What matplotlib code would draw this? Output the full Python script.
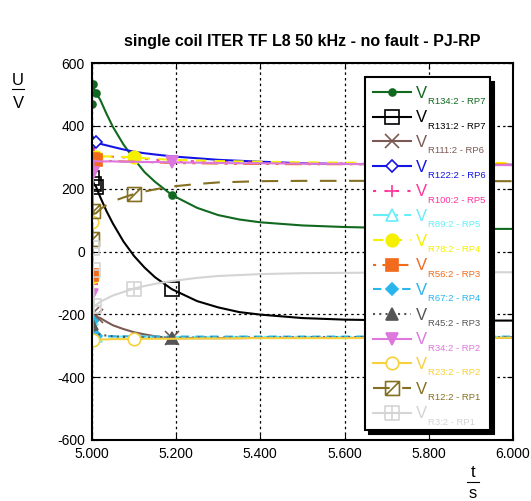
import numpy as np
import matplotlib
matplotlib.use('Agg')
import matplotlib.pyplot as plt
from matplotlib.path import Path
from matplotlib.lines import Line2D

plt.rcParams['font.family'] = ['Liberation Sans', 'DejaVu Sans']
plt.rcParams['axes.unicode_minus'] = False

# Time points (s)
t = [5.000, 5.002, 5.005, 5.010, 5.020, 5.035, 5.050, 5.075, 5.100, 5.125, 5.150,
     5.190, 5.250, 5.300, 5.350, 5.400, 5.500, 5.600, 5.700, 5.800, 5.900, 6.000]

# Voltages (V)
v_r134 = [470, 535, 520, 505, 483, 438, 397, 341, 295, 253, 222, 180, 139, 116, 102, 93, 83, 78, 75, 73, 72, 72]
v_r131 = [235, 228, 215, 206, 173, 128, 89, 32, -14, -51, -82, -120, -158, -178, -193, -201, -212, -217, -219, -220, -220, -220]
v_r111 = [-200, -205, -205, -207, -212, -224, -235, -247, -257, -264, -270, -276, -276, -276, -276, -275, -275, -275, -275, -275, -275, -275]
v_r122 = [-395, 345, 352, 350, 343, 338, 333, 325, 318, 313, 309, 303, 297, 292, 289, 286, 281, 279, 278, 277, 276, 276]
v_r100 = [-105, 310, 312, 308, 305, 303, 302, 300, 298, 295, 292, 290, 287, 285, 284, 283, 281, 280, 279, 278, 278, 278]
v_r89 = [-215, -265, -268, -270, -270, -270, -271, -271, -271, -271, -272, -272, -272, -272, -272, -272, -272, -272, -272, -272, -272, -272]
v_r78 = [-80, 305, 300, 302, 303, 303, 302, 301, 300, 297, 295, 292, 290, 288, 287, 286, 284, 283, 283, 282, 282, 282]
v_r56 = [-75, 295, 300, 292, 290, 289, 288, 287, 286, 285, 284, 282, 281, 280, 279, 279, 278, 278, 277, 277, 277, 277]
v_r67 = [-220, -262, -266, -268, -270, -270, -270, -270, -270, -271, -271, -271, -271, -271, -271, -271, -271, -271, -271, -271, -271, -271]
v_r45 = [-230, -240, -250, -258, -265, -268, -270, -272, -273, -274, -274, -275, -274, -274, -274, -274, -273, -273, -273, -273, -273, -273]
v_r34 = [-140, 250, 290, 288, 287, 287, 287, 286, 286, 285, 285, 284, 283, 282, 281, 281, 280, 279, 278, 277, 276, 275]
v_r23 = [93, -281, -280, -280, -280, -280, -279, -279, -279, -278, -278, -278, -277, -277, -276, -276, -276, -276, -275, -275, -275, -275]
v_r12 = [40, 128, 120, 122, 135, 148, 160, 172, 183, 191, 198, 207, 215, 220, 222, 224, 225, 225, 225, 224, 224, 224]
v_r3 = [10, -60, -174, -170, -160, -150, -140, -129, -118, -110, -103, -94, -84, -78, -75, -72, -69, -68, -67, -66, -66, -66]

labels = ['R134:2 - RP7', 'R131:2 - RP7', 'R111:2 - RP6', 'R122:2 - RP6',
          'R100:2 - RP5', 'R89:2 - RP5', 'R78:2 - RP4', 'R56:2 - RP3',
          'R67:2 - RP4', 'R45:2 - RP3', 'R34:2 - RP2', 'R23:2 - RP2',
          'R12:2 - RP1', 'R3:2 - RP1']
values = [v_r134, v_r131, v_r111, v_r122, v_r100, v_r89, v_r78, v_r56,
          v_r67, v_r45, v_r34, v_r23, v_r12, v_r3]

# custom markers: square with diagonal, square with plus
sq = [(-1, -1), (1, -1), (1, 1), (-1, 1), (-1, -1)]
box_slash = Path(sq + [(-1, -1), (1, 1)],
                 [Path.MOVETO] + [Path.LINETO] * 4 + [Path.MOVETO, Path.LINETO])
box_plus = Path(sq + [(-1, 0), (1, 0), (0, -1), (0, 1)],
                [Path.MOVETO] + [Path.LINETO] * 4 + [Path.MOVETO, Path.LINETO, Path.MOVETO, Path.LINETO])

styles = [
    dict(color='#11691f', ls='-', marker='o', ms=5, mfc='#11691f', me=[0, 1, 3, 11]),
    dict(color='#000000', ls='-', marker='s', ms=10, mfc='none', me=[0, 2, 3, 11]),
    dict(color='#7a5a52', ls='-', marker='x', ms=10, mfc='none', me=[0, 3, 11]),
    dict(color='#1414e6', ls='-', marker='D', ms=6, mfc='white', me=[1, 3]),
    dict(color='#ff3399', ls=(0, (1.5, 4)), marker='+', ms=8, mfc='none', me=[0, 2]),
    dict(color='#66eef8', ls=(0, (8, 3, 1, 3)), marker='^', ms=8, mfc='white', me=[0, 3]),
    dict(color='#f5f000', ls=(0, (5, 4)), marker='o', ms=9, mfc='#f5f000', me=[0, 3, 8]),
    dict(color='#f26b1d', ls=(0, (1.5, 3, 1.5, 3, 8, 3)), marker='s', ms=8, mfc='#f26b1d', me=[0, 1, 3]),
    dict(color='#29b6ec', ls=(0, (4, 3)), marker='D', ms=6, mfc='#29b6ec', me=[0, 3]),
    dict(color='#555555', ls=(0, (1, 2)), marker='^', ms=8, mfc='#555555', me=[0, 11]),
    dict(color='#dd77dd', ls='-', marker='v', ms=9, mfc='#dd77dd', me=[0, 1, 11]),
    dict(color='#f7d03c', ls='-', marker='o', ms=9, mfc='white', me=[0, 1, 8]),
    dict(color='#857022', ls=(0, (8, 6)), marker=box_slash, ms=10, mfc='none', me=[0, 1, 8]),
    dict(color='#d4d4d4', ls='-', marker=box_plus, ms=10, mfc='none', me=[0, 1, 2, 8]),
]

fig = plt.figure(figsize=(5.31, 5.01), dpi=100)
ax = fig.add_axes([0.173, 0.122, 0.793, 0.752])

lines = []
for lab, v, st in zip(labels, values, styles):
    ln, = ax.plot(t, v, color=st['color'], linestyle=st['ls'], linewidth=1.5,
                  marker=st['marker'], markersize=st['ms'], markerfacecolor=st['mfc'],
                  markeredgecolor=st['color'], markeredgewidth=1.2,
                  markevery=st['me'])
    lines.append(ln)

ax.set_xlim(5.0, 6.0)
ax.set_ylim(-600, 600)
xt = [5.0, 5.2, 5.4, 5.6, 5.8, 6.0]
ax.set_xticks(xt)
ax.set_xticklabels(['%.3f' % x for x in xt])
ax.set_yticks(range(-600, 601, 200))
ax.tick_params(direction='in', length=4, labelsize=10, top=True, right=True, pad=5)
ax.grid(True, color='black', linestyle=(0, (2, 2.5)), linewidth=0.9)
for sp in ax.spines.values():
    sp.set_linewidth(1.5)

ax.set_title('single coil ITER TF L8 50 kHz - no fault - PJ-RP',
             fontsize=11.5, fontweight='bold', pad=12)

# axis labels as fractions
fig.text(0.034, 0.830, 'U', fontsize=12, ha='center', va='baseline')
fig.text(0.034, 0.784, 'V', fontsize=12, ha='center', va='baseline')
fig.add_artist(Line2D([0.023, 0.045], [0.822, 0.822], color='black', lw=0.8,
                      transform=fig.transFigure))
fig.text(0.891, 0.048, 't', fontsize=12, ha='center', va='baseline')
fig.text(0.891, 0.006, 's', fontsize=12, ha='center', va='baseline')
fig.add_artist(Line2D([0.880, 0.902], [0.038, 0.038], color='black', lw=0.8,
                      transform=fig.transFigure))

# legend: real entries in column 1, empty column 2 makes room for subscripts
blank = [Line2D([], [], linestyle='none') for _ in labels]
leg = ax.legend(lines + blank, ['V'] * len(labels) + [''] * len(labels), ncol=2,
                loc='upper left', bbox_to_anchor=(0.648, 0.962), borderaxespad=0,
                fontsize=12, labelspacing=0.58, handlelength=2.3, handletextpad=0.3,
                columnspacing=0.65, borderpad=0.5, fancybox=False, framealpha=1,
                edgecolor='black', labelcolor='linecolor',
                shadow={'color': 'black', 'alpha': 1, 'ox': 3, 'oy': -3})
leg.get_frame().set_linewidth(1.5)

# subscripts next to each "V" (drawn above the legend)
for txt, lab, st in zip(leg.get_texts()[:len(labels)], labels, styles):
    ax.annotate(lab, xy=(1, 0), xycoords=txt, xytext=(0.6, -2.3),
                textcoords='offset points', fontsize=6.8,
                color=st['color'], ha='left', va='baseline',
                annotation_clip=False, zorder=7)

fig.savefig('out.png', dpi=100)
